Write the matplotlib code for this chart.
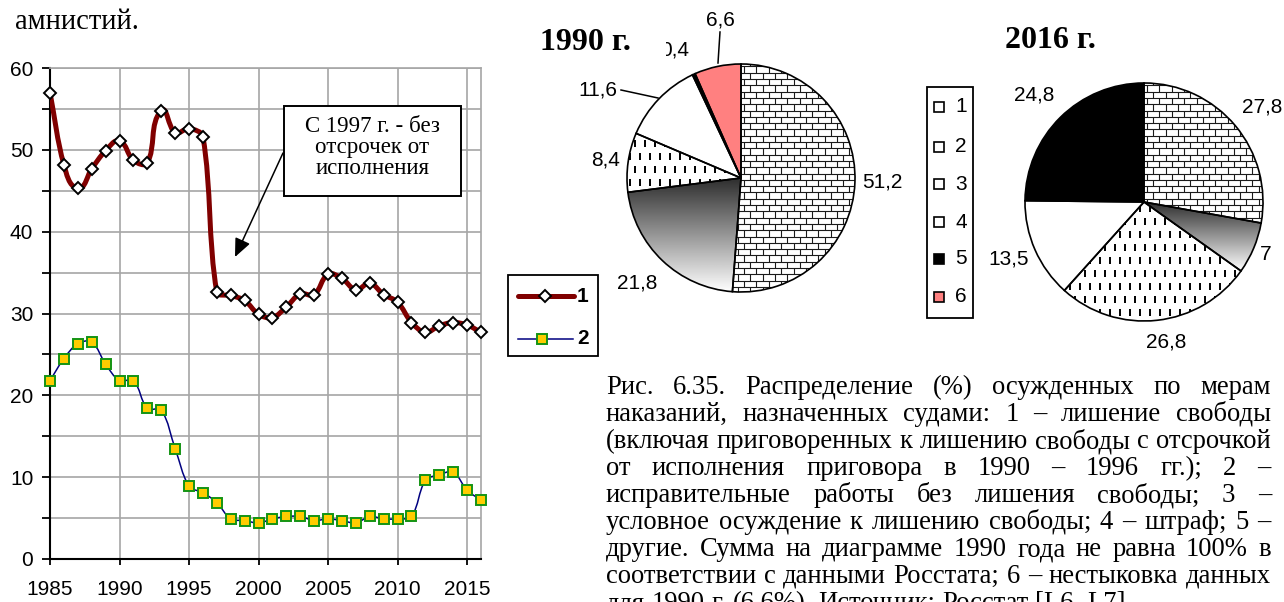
import numpy as np
import matplotlib
matplotlib.use('Agg')
import matplotlib.pyplot as plt
from matplotlib.patches import Rectangle, Wedge, PathPatch
from matplotlib.path import Path
from matplotlib.collections import LineCollection
from matplotlib.lines import Line2D

# ---------------- data ----------------
years = list(range(1985, 2017))
deprivation = [57.0, 48.2, 45.3, 47.7, 49.9, 51.1, 48.7, 48.4, 54.8, 52.1,
               52.6, 51.6, 32.6, 32.2, 31.6, 29.9, 29.5, 30.8, 32.4, 32.3,
               34.8, 34.3, 32.9, 33.7, 32.3, 31.4, 28.9, 27.7, 28.5, 28.9,
               28.6, 27.7]
corrective = [21.8, 24.5, 26.3, 26.5, 23.8, 21.8, 21.8, 18.4, 18.2, 13.5,
              8.9, 8.1, 6.9, 4.9, 4.7, 4.4, 4.9, 5.2, 5.2, 4.7,
              4.9, 4.7, 4.4, 5.2, 4.9, 4.9, 5.2, 9.6, 10.3, 10.6,
              8.4, 7.2]
line_labels = ['1', '2']
x_ticks = [1985, 1990, 1995, 2000, 2005, 2010, 2015]
y_ticks = [0, 10, 20, 30, 40, 50, 60]

pie_categories = ['1', '2', '3', '4', '5', '6']
pie_1990_values = [51.2, 21.8, 8.4, 11.6, 0.4, 6.6]
pie_2016_values = [27.8, 7, 26.8, 13.5, 24.8]
pie_1990_title = '1990 г.'
pie_2016_title = '2016 г.'

annotation_text = 'С 1997 г. - без\nотсрочек от\nисполнения'
top_text = 'амнистий.'
caption_lines = [
    'Рис. 6.35. Распределение (%) осужденных по мерам',
    'наказаний, назначенных судами: 1 – лишение свободы',
    '(включая приговоренных к лишению свободы с отсрочкой',
    'от исполнения приговора в 1990 – 1996 гг.); 2 –',
    'исправительные работы без лишения свободы; 3 –',
    'условное осуждение к лишению свободы; 4 – штраф; 5 –',
    'другие. Сумма на диаграмме 1990 года не равна 100% в',
    'соответствии с данными Росстата; 6 – нестыковка данных',
    'для 1990 г. (6,6%). Источник: Росстат [L6, L7].',
]

# ---------------- setup ----------------
W, H = 1284, 602
DPI = 100
SERIF = 'Liberation Serif'
SANS = 'Liberation Sans'
plt.rcParams['font.family'] = SANS

fig = plt.figure(figsize=(W / DPI, H / DPI), dpi=DPI)
fig.patch.set_facecolor('white')

GRID = '#a6a6a6'
LBL = 15
style1 = dict(color='#800000', lw=3.6)
mk1 = dict(marker='D', ms=6.2, mfc='white', mec='black', mew=1.4)
style2 = dict(color='#000080', lw=1.1)
mk2 = dict(marker='s', ms=6.6, mfc='#FFCC00', mec='#149414', mew=1.4)

# ---------------- line chart ----------------
AX_L, AX_R, AX_T, AX_B = 50, 481, 68, 559
ax = fig.add_axes([AX_L / W, 1 - AX_B / H, (AX_R - AX_L) / W,
                   (AX_B - AX_T) / H])
ax.set_xlim(1985, 2016)
ax.set_ylim(0, 60)
ax.set_xticks(x_ticks)
ax.set_yticks(y_ticks)
ax.set_yticks([5, 15, 25, 35, 45, 55], minor=True)
ax.grid(True, which='both', color=GRID, lw=1.2)
ax.set_axisbelow(True)
for s in ['top', 'right']:
    ax.spines[s].set_color(GRID)
    ax.spines[s].set_linewidth(1.2)
for s in ['left', 'bottom']:
    ax.spines[s].set_color('black')
    ax.spines[s].set_linewidth(1.5)
ax.tick_params(axis='y', which='both', direction='out', length=6, width=1.3,
               labelsize=LBL, pad=6)
ax.tick_params(axis='x', direction='out', length=4, width=1.3,
               labelsize=LBL, pad=11)

# pixel scale of the data axes, used only to shape the smoothing curve
SX = (AX_R - AX_L) / (2016 - 1985)
SY = (AX_B - AX_T) / 60.0


def smooth_path(x, y):
    """Excel-like smoothing: Bezier segments whose control arms are
    proportional to the segment's own length (in screen space)."""
    px = np.asarray(x, float) * SX
    py = np.asarray(y, float) * SY
    n = len(px)
    P = np.column_stack([px, py])
    tang = np.zeros_like(P)
    for i in range(n):
        a = P[max(i - 1, 0)]
        b = P[min(i + 1, n - 1)]
        d = b - a
        tang[i] = d / np.hypot(*d)
    verts = [tuple(P[0])]
    codes = [Path.MOVETO]
    for i in range(n - 1):
        L = np.hypot(*(P[i + 1] - P[i])) / 3.0
        c1 = P[i] + tang[i] * L
        c2 = P[i + 1] - tang[i + 1] * L
        verts += [tuple(c1), tuple(c2), tuple(P[i + 1])]
        codes += [Path.CURVE4] * 3
    verts = np.array(verts)
    verts[:, 0] /= SX
    verts[:, 1] /= SY
    return Path(verts, codes)


ax.add_patch(PathPatch(smooth_path(years, deprivation), fill=False,
                       edgecolor=style1['color'], lw=style1['lw'],
                       capstyle='round', joinstyle='round', zorder=3))
ax.plot(years, deprivation, ls='none', zorder=4, clip_on=False, **mk1)
ax.add_patch(PathPatch(smooth_path(years, corrective), fill=False,
                       edgecolor=style2['color'], lw=style2['lw'], zorder=3))
ax.plot(years, corrective, ls='none', zorder=4, clip_on=False, **mk2)

# ---------------- overlay (pixel coordinates, y up) ----------------
ov = fig.add_axes([0, 0, 1, 1])
ov.patch.set_alpha(0)


def Y(py):
    return H - py


def bricks(patch, z=2, h=6.3, w=12.4):
    bb = patch.get_path().get_extents(patch.get_patch_transform())
    segs = []
    row = int(np.floor(bb.y0 / h))
    y = row * h
    while y < bb.y1 + h:
        segs.append([(bb.x0 - w, y), (bb.x1 + w, y)])
        off = (w / 2) * (row % 2)
        x = np.floor(bb.x0 / w) * w - w + off
        while x < bb.x1 + w:
            segs.append([(x, y), (x, y + h)])
            x += w
        y += h
        row += 1
    lc = LineCollection(segs, colors='#1a1a1a', linewidths=0.8, zorder=z)
    ov.add_collection(lc)
    lc.set_clip_path(patch)


def dashes(patch, z=2, dx=10.0, dy=13.0, L=7.0):
    bb = patch.get_path().get_extents(patch.get_patch_transform())
    segs = []
    row = int(np.floor(bb.y0 / dy))
    y = row * dy
    while y < bb.y1 + dy:
        off = (dx / 2) * (row % 2)
        x = np.floor(bb.x0 / dx) * dx - dx + off
        while x < bb.x1 + dx:
            segs.append([(x, y), (x, y + L)])
            x += dx
        y += dy
        row += 1
    lc = LineCollection(segs, colors='black', linewidths=1.4, zorder=z)
    ov.add_collection(lc)
    lc.set_clip_path(patch)


def gradient(patch, z=2):
    bb = patch.get_path().get_extents(patch.get_patch_transform())
    img = np.linspace(0.18, 1.0, 256)[:, None]
    im = ov.imshow(img, cmap='gray', vmin=0, vmax=1, origin='upper',
                   extent=(bb.x0, bb.x1, bb.y0, bb.y1), aspect='auto',
                   interpolation='bilinear', zorder=z)
    im.set_clip_path(patch)


FILLS = {'1': 'white', '2': 'white', '3': 'white', '4': 'white',
         '5': 'black', '6': '#FF8080'}


def apply_pattern(patch, cat, small=False):
    if cat == '1':
        if small:
            bricks(patch, h=4.0, w=7.0)
        else:
            bricks(patch)
    elif cat == '2':
        gradient(patch)
    elif cat == '3':
        if small:
            dashes(patch, dx=5.0, dy=6.0, L=3.5)
        else:
            dashes(patch)


def fmt(v):
    return ('%g' % v).replace('.', ',')


def draw_pie(values, cx, cy, r, label_pos):
    cats = pie_categories[:len(values)]
    wedges, _ = ov.pie(values, startangle=90, counterclock=False,
                       center=(cx, Y(cy)), radius=r,
                       colors=[FILLS[c] for c in cats],
                       wedgeprops=dict(linewidth=0))
    for wd, c in zip(wedges, cats):
        wd.set_zorder(1)
        apply_pattern(wd, c)
        ov.add_patch(Wedge(wd.center, wd.r, wd.theta1, wd.theta2, fill=False,
                           ec='black', lw=1.2, zorder=4))
    for v, (lx, ly) in zip(values, label_pos):
        ov.text(lx, Y(ly), fmt(v), fontsize=LBL, family=SANS, ha='center',
                va='center', zorder=5)


# 1990 pie
draw_pie(pie_1990_values, 741, 178, 114,
         [(882, 182), (637, 283), (606, 160), (598, 90), (675, 50), (720, 20)])
ov.plot([720, 718], [Y(32), Y(63)], color='black', lw=1.1, zorder=5)
ov.plot([621, 658], [Y(90), Y(98)], color='black', lw=1.1, zorder=5)
ov.add_patch(Rectangle((530, Y(64)), 136, 44, fc='white', ec='none', zorder=6))
ov.text(540, Y(42), pie_1990_title, family=SERIF, fontweight='bold',
        fontsize=23, ha='left', va='center', zorder=7)

# 2016 pie
draw_pie(pie_2016_values, 1144, 202, 119,
         [(1262, 107), (1266, 255), (1166, 342), (1009, 259), (1034, 95)])
ov.text(1005, Y(40), pie_2016_title, family=SERIF, fontweight='bold',
        fontsize=23, ha='left', va='center', zorder=7)

# pie legend
ov.add_patch(Rectangle((927, Y(318)), 46, 231, fc='white', ec='black',
                       lw=1.3, zorder=3))
SQ = 10
for c, py in zip(pie_categories, [107, 147, 184, 222, 259, 297]):
    sq = Rectangle((934, Y(py) - SQ / 2), SQ, SQ, fc=FILLS[c], ec='none',
                   zorder=4)
    ov.add_patch(sq)
    if c in ('1', '2', '3'):
        apply_pattern(sq, c, small=True)
    ov.add_patch(Rectangle((934, Y(py) - SQ / 2), SQ, SQ, fill=False,
                           ec='black', lw=1.2, zorder=5))
    ov.text(955, Y(py), c, fontsize=LBL, family=SANS, ha='left', va='center',
            zorder=5)

# line legend
ov.add_patch(Rectangle((508, Y(356)), 90, 81, fc='white', ec='black', lw=1.3,
                       zorder=3))
ov.add_line(Line2D([518, 574], [Y(296), Y(296)], solid_capstyle='round',
                   zorder=4, **style1))
ov.plot([545], [Y(296)], zorder=5, **mk1)
ov.text(577, Y(296), line_labels[0], fontsize=LBL, fontweight='bold',
        family=SANS, ha='left', va='center', zorder=5)
ov.add_line(Line2D([518, 573], [Y(339), Y(339)], zorder=4, **style2))
ov.plot([542], [Y(339)], zorder=5, **mk2)
ov.text(577, Y(339), line_labels[1], fontsize=LBL, fontweight='bold',
        family=SANS, ha='left', va='center', zorder=5)

# annotation box with arrow
ov.add_patch(Rectangle((284, Y(196)), 177, 90, fc='white', ec='black',
                       lw=1.4, zorder=5))
ov.text(372.5, Y(148), annotation_text, family=SERIF, fontsize=16.5,
        ha='center', va='center', linespacing=1.0, zorder=6)
ov.annotate('', xy=(235, Y(257)), xytext=(283, Y(153)),
            arrowprops=dict(arrowstyle='-|>,head_length=0.8,head_width=0.35',
                            color='black', lw=1.1, mutation_scale=14,
                            shrinkA=0, shrinkB=0), zorder=6)

# ---------------- text ----------------
renderer = fig.canvas.get_renderer()


def text_width(s, size):
    t = fig.text(0, 0, s, fontsize=size, family=SERIF)
    wdt = t.get_window_extent(renderer).width
    t.remove()
    return wdt


top_fs = 10 * 125 / text_width(top_text, 10)
ov.text(15, Y(29), top_text, family=SERIF, fontsize=top_fs, ha='left',
        va='baseline')

CX0, CX1 = 606, 1271
cap_fs = 10 * (CX1 - CX0) / text_width(caption_lines[2], 10)
space_w = text_width('a a', cap_fs) - text_width('aa', cap_fs)
for i, line in enumerate(caption_lines):
    base = Y(394 + 27 * i)
    words = line.split(' ')
    widths = [text_width(wd, cap_fs) for wd in words]
    if i < len(caption_lines) - 1 and len(words) > 1:
        gap = (CX1 - CX0 - sum(widths)) / (len(words) - 1)
    else:
        gap = space_w
    x = CX0
    for wd, ww in zip(words, widths):
        ov.text(x, base, wd, family=SERIF, fontsize=cap_fs, ha='left',
                va='baseline')
        x += ww + gap

ov.set_xlim(0, W)
ov.set_ylim(0, H)
ov.set_aspect('auto')
ov.set_axis_off()

fig.savefig('out.png', dpi=DPI, facecolor='white')
